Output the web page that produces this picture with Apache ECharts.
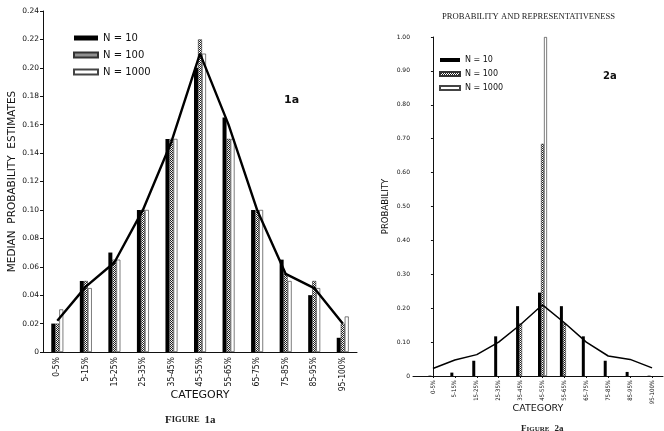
<!DOCTYPE html>
<html><head><meta charset="utf-8">
<script src="https://cdn.jsdelivr.net/npm/echarts@6/dist/echarts.min.js"></script>
<style>html,body{margin:0;padding:0;background:#fff}#c{width:664px;height:431px}</style>
</head><body><div id="c"></div>
<script>
// ---- data ----
var categories = ['0-5%','5-15%','15-25%','25-35%','35-45%','45-55%','55-65%','65-75%','75-85%','85-95%','95-100%'];
var seriesNames = ['N = 10','N = 100','N = 1000'];
// Figure 1a: median probability estimates
var fig1N10   = [0.02, 0.05, 0.07, 0.10, 0.15, 0.20, 0.165, 0.10, 0.065, 0.04, 0.01];
var fig1N100  = [0.02, 0.05, 0.065, 0.10, 0.15, 0.22, 0.15, 0.10, 0.055, 0.05, 0.02];
var fig1N1000 = [0.03, 0.045, 0.065, 0.10, 0.15, 0.21, 0.15, 0.10, 0.05, 0.045, 0.025];
var fig1Line  = [0.022, 0.046, 0.063, 0.10, 0.148, 0.21, 0.16, 0.10, 0.055, 0.045, 0.02];
// Figure 2a: probability
var fig2N10   = [0.001, 0.01, 0.045, 0.117, 0.206, 0.246, 0.206, 0.117, 0.045, 0.012, 0.001];
var fig2N100  = [0, 0, 0, 0, 0.155, 0.685, 0.155, 0, 0, 0, 0];
var fig2N1000 = [0, 0, 0, 0, 0, 1.00, 0, 0, 0, 0, 0];
var fig2Line  = [0.022, 0.047, 0.063, 0.10, 0.152, 0.21, 0.157, 0.10, 0.059, 0.049, 0.024];

// stipple pattern
var pc = document.createElement('canvas'); pc.width = 2; pc.height = 2;
var g = pc.getContext('2d'); g.fillStyle = '#fff'; g.fillRect(0,0,2,2);
g.fillStyle = '#222'; g.fillRect(0,0,1,1); g.fillRect(1,1,1,1);
var stipple = {image: pc, repeat: 'repeat'};

var sans = 'DejaVu Sans';
var narrow = '"Liberation Sans Narrow", "DejaVu Sans Condensed", sans-serif';
var serif = 'Liberation Serif';
var styles = [
  {color:'#000', borderColor:'#000', borderWidth:0},
  {color: stipple, borderColor:'#333', borderWidth:0.6},
  {color:'#fff', borderColor:'#444', borderWidth:0.7}
];
function idx(arr){ return arr.map(function(v,i){ return [i, v === 0 ? '-' : v]; }); }
var fmt = function(v){ return v === 0 ? '0' : v.toFixed(2); };

var chart = echarts.init(document.getElementById('c'), null, {renderer:'canvas'});
var option = {
  animation: false,
  backgroundColor: '#fff',
  title: [
    {text:'{a|F}{b|IGURE} {a|1a}', left: 160, top: 406,
     textStyle:{rich:{a:{fontFamily:serif,fontSize:11,color:'#222'},b:{fontFamily:serif,fontSize:8.5,color:'#222'}}}},
    {text:'{a|F}{b|IGURE} {a|2a}', left: 516, top: 415,
     textStyle:{rich:{a:{fontFamily:serif,fontSize:9,color:'#222'},b:{fontFamily:serif,fontSize:7,color:'#222'}}}},
    {text:'PROBABILITY AND REPRESENTATIVENESS', left: 437, top: 7,
     textStyle:{fontFamily:serif,fontSize:8.6,fontWeight:'normal',color:'#222'}},
    {text:'1a', left: 279, top: 90, textStyle:{fontFamily:sans,fontSize:11,fontWeight:'bold',color:'#111'}},
    {text:'2a', left: 598, top: 66, textStyle:{fontFamily:sans,fontSize:10,fontWeight:'bold',color:'#111'}}
  ],
  legend: [
    {data: seriesNames, orient:'vertical', left: 68, top: 28, itemWidth: 24, itemHeight: 5, itemGap: 7,
     icon:'rect', textStyle:{fontFamily:sans,fontSize:10,color:'#111'}},
    {data: seriesNames, orient:'vertical', left: 434, top: 51, itemWidth: 20, itemHeight: 4, itemGap: 6,
     icon:'rect', textStyle:{fontFamily:sans,fontSize:8,color:'#111'}}
  ],
  grid: [
    {left: 43, top: 11, width: 314, height: 341},
    {left: 413, top: 37, width: 250, height: 339}
  ],
  xAxis: [
    {type:'category', gridIndex:0, data: categories, boundaryGap:true,
     name:'CATEGORY', nameLocation:'middle', nameGap: 38, nameMoveOverlap: false,
     nameTextStyle:{fontFamily:sans,fontSize:11,color:'#111'},
     axisLine:{lineStyle:{color:'#111',width:1}}, axisTick:{show:false},
     axisLabel:{rotate:90, fontFamily:narrow, fontSize:8.5, color:'#111', margin:5, interval:0}},
    {type:'value', gridIndex:1, min:-0.91, max:10.5,
     name:'CATEGORY', nameLocation:'middle', nameGap: 28, nameMoveOverlap: false,
     nameTextStyle:{fontFamily:sans,fontSize:9.5,color:'#111'},
     splitLine:{show:false},
     axisLine:{lineStyle:{color:'#111',width:1}},
     axisTick:{show:true, customValues:[0,1,2,3,4,5,6,7,8,9,10], length:2, lineStyle:{color:'#111'}},
     axisLabel:{customValues:[0,1,2,3,4,5,6,7,8,9,10], rotate:90, fontFamily:narrow, fontSize:6, color:'#111', margin:4,
       formatter:function(v){ return categories[Math.round(v)]; }}}
  ],
  yAxis: [
    {type:'value', gridIndex:0, min:0, max:0.24, interval:0.02,
     name:'MEDIAN  PROBABILITY  ESTIMATES', nameLocation:'middle', nameGap: 25, nameMoveOverlap: false,
     nameTextStyle:{fontFamily:sans,fontSize:10.5,color:'#111'},
     splitLine:{show:false},
     axisLine:{show:true, lineStyle:{color:'#111',width:1}},
     axisTick:{show:true, length:3, lineStyle:{color:'#111'}},
     axisLabel:{fontFamily:sans,fontSize:7.5,color:'#111',margin:4, formatter: fmt}},
    {type:'value', gridIndex:1, min:0, max:1.0, interval:0.1,
     name:'PROBABILITY', nameLocation:'middle', nameGap: 23, nameMoveOverlap: false,
     nameTextStyle:{fontFamily:sans,fontSize:8.5,color:'#111'},
     splitLine:{show:false},
     axisLine:{show:true, lineStyle:{color:'#111',width:1}},
     axisTick:{show:true, length:2, lineStyle:{color:'#111'}},
     axisLabel:{fontFamily:sans,fontSize:6,color:'#111',margin:3, formatter: fmt}}
  ],
  series: [
    {name:seriesNames[0], type:'bar', xAxisIndex:0, yAxisIndex:0, data: fig1N10, barWidth:4, barGap:'0%', itemStyle: styles[0]},
    {name:seriesNames[1], type:'bar', xAxisIndex:0, yAxisIndex:0, data: fig1N100, barWidth:4, barGap:'0%', itemStyle: styles[1]},
    {name:seriesNames[2], type:'bar', xAxisIndex:0, yAxisIndex:0, data: fig1N1000, barWidth:4, barGap:'0%', itemStyle: styles[2]},
    {name:'line1', type:'line', xAxisIndex:0, yAxisIndex:0, data: fig1Line, symbol:'none', lineStyle:{color:'#000',width:2.4}, z:5},
    {name:seriesNames[0], type:'bar', xAxisIndex:1, yAxisIndex:1, data: idx(fig2N10), barWidth:3, barGap:'0%', itemStyle: styles[0]},
    {name:seriesNames[1], type:'bar', xAxisIndex:1, yAxisIndex:1, data: idx(fig2N100), barWidth:3, barGap:'0%', itemStyle: styles[1]},
    {name:seriesNames[2], type:'bar', xAxisIndex:1, yAxisIndex:1, data: idx(fig2N1000), barWidth:3, barGap:'0%', itemStyle: styles[2]},
    {name:'line2', type:'line', xAxisIndex:1, yAxisIndex:1, data: idx(fig2Line), symbol:'none', lineStyle:{color:'#000',width:1.5}, z:5}
  ]
};
chart.setOption(option);
</script></body></html>
